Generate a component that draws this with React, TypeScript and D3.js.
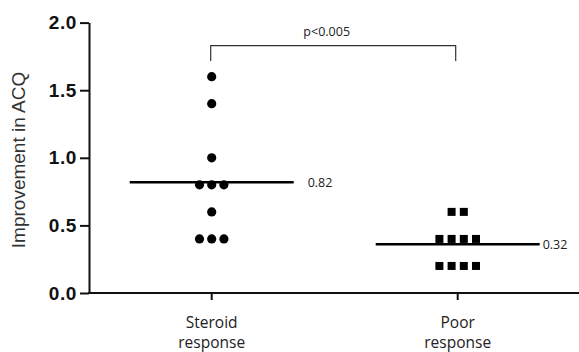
import React, { useRef, useEffect } from "react";
import * as d3 from "d3";

const groups = ["Steroid response", "Poor response"];
const steroidValues = [1.6, 1.4, 1.0, 0.8, 0.8, 0.8, 0.6, 0.4, 0.4, 0.4];
const poorValues = [0.6, 0.6, 0.4, 0.4, 0.4, 0.4, 0.2, 0.2, 0.2, 0.2];
const meanLabels = ["0.82", "0.32"];
const yTicks = [0, 0.5, 1.0, 1.5, 2.0];
const pLabel = "p<0.005";

// spread points with equal values side by side
const spread = (values: number[]) => {
  const counts = d3.rollup(values, (v) => v.length, (d) => d);
  const seen = new Map<number, number>();
  return values.map((v) => {
    const n = counts.get(v) || 1;
    const i = seen.get(v) || 0;
    seen.set(v, i + 1);
    return { value: v, offset: i - (n - 1) / 2 };
  });
};

const App = () => {
  const svgRef = useRef<SVGSVGElement>(null);

  useEffect(() => {
    const width = 579;
    const height = 352;
    const svg = d3.select(svgRef.current);
    svg.selectAll("*").remove();

    const x = d3.scalePoint().domain(groups).range([211.7, 457.7]);
    const y = d3.scaleLinear().domain([0, 2]).range([293, 22.6]);

    // y axis
    const yAxis = svg.append("g").attr("transform", "translate(89,0)");
    yAxis
      .call(d3.axisLeft(y).tickValues(yTicks).tickFormat(d3.format(".1f")).tickSize(9).tickSizeOuter(0))
      .call((g) => g.select(".domain").attr("stroke", "#111").attr("stroke-width", 2))
      .call((g) => g.selectAll(".tick line").attr("stroke", "#111").attr("stroke-width", 2))
      .call((g) =>
        g
          .selectAll(".tick text")
          .attr("x", -12)
          .attr("fill", "#111")
          .style("font-family", "'Liberation Sans', Arial, sans-serif")
          .style("font-weight", "bold")
          .style("font-size", "19px")
          .style("letter-spacing", "0.6px")
      );

    // x axis
    const xAxis = svg.append("g").attr("transform", "translate(0,293)");
    xAxis
      .append("line")
      .attr("x1", 88)
      .attr("x2", width)
      .attr("stroke", "#111")
      .attr("stroke-width", 2);
    groups.forEach((gName) => {
      const xx = x(gName)!;
      xAxis.append("line").attr("x1", xx).attr("x2", xx).attr("y1", 0).attr("y2", 7).attr("stroke", "#111").attr("stroke-width", 2);
      const parts = gName.split(" ");
      const t = xAxis
        .append("text")
        .attr("text-anchor", "middle")
        .attr("fill", "#222")
        .style("font-family", "'Open Sans', sans-serif")
        .style("font-size", "15.5px");
      parts.forEach((p, i) => {
        t.append("tspan").attr("x", xx).attr("y", 35 + i * 20).text(p);
      });
    });

    // y axis title
    svg
      .append("text")
      .attr("transform", `translate(25,160) rotate(-90)`)
      .attr("text-anchor", "middle")
      .attr("fill", "#333")
      .style("font-family", "'Liberation Sans', Arial, sans-serif")
      .style("font-size", "19px")
      .text("Improvement in ACQ");

    const step = 12.2;

    // steroid dots
    const x0 = x(groups[0])!;
    svg
      .append("g")
      .selectAll("circle")
      .data(spread(steroidValues))
      .join("circle")
      .attr("cx", (d) => x0 + d.offset * step)
      .attr("cy", (d) => y(d.value))
      .attr("r", 4.6)
      .attr("fill", "#000");

    // poor squares
    const x1 = x(groups[1])!;
    const s = 8;
    svg
      .append("g")
      .selectAll("rect")
      .data(spread(poorValues))
      .join("rect")
      .attr("x", (d) => x1 + d.offset * step - s / 2)
      .attr("y", (d) => y(d.value) - s / 2)
      .attr("width", s)
      .attr("height", s)
      .attr("fill", "#000");

    // mean lines
    const means = [d3.mean(steroidValues)!, d3.mean(poorValues)!];
    const lineHalf = 82;
    [x0, x1].forEach((cx, i) => {
      svg
        .append("line")
        .attr("x1", cx - lineHalf)
        .attr("x2", cx + lineHalf)
        .attr("y1", y(means[i]))
        .attr("y2", y(means[i]))
        .attr("stroke", "#000")
        .attr("stroke-width", 2.5);
      svg
        .append("text")
        .attr("x", cx + lineHalf + (i === 0 ? 14 : 3))
        .attr("y", y(means[i]) + 5)
        .attr("fill", "#222")
        .style("font-family", "'Open Sans', sans-serif")
        .style("font-size", "12.5px")
        .text(meanLabels[i]);
    });

    // significance bracket
    const by = 45.7;
    svg
      .append("path")
      .attr("d", `M${x0 - 1},61 V${by} H${x1 - 2} V61`)
      .attr("fill", "none")
      .attr("stroke", "#333")
      .attr("stroke-width", 1.2);
    svg
      .append("text")
      .attr("x", (x0 + x1) / 2 - 8)
      .attr("y", 36)
      .attr("text-anchor", "middle")
      .attr("fill", "#222")
      .style("font-family", "'Open Sans', sans-serif")
      .style("font-size", "12.5px")
      .text(pLabel);

    svg.attr("width", width).attr("height", height);
  }, []);

  return (
    <svg
      ref={svgRef}
      width={579}
      height={352}
      style={{ position: "absolute", left: 0, top: 0, background: "#fff" }}
    ></svg>
  );
};

export default App;
